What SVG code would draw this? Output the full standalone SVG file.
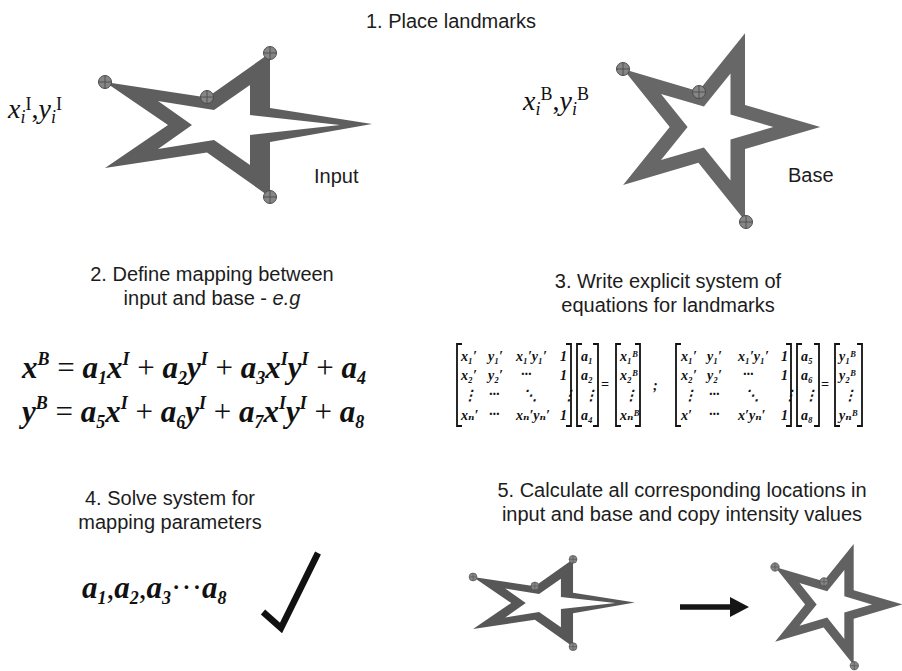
<svg xmlns="http://www.w3.org/2000/svg" xmlns:xlink="http://www.w3.org/1999/xlink" width="902" height="671" viewBox="0 0 902 671">
  <style>
    .lbl { font-family: "Liberation Sans", Arial, Helvetica, sans-serif; font-size: 20px; fill: #1c1c1c; }
    .mid { text-anchor: middle; }
    .tm { font-family: "Liberation Serif", "Times New Roman", serif; font-size: 28px; font-style: italic; fill: #111; }
    .tms { font-size: 18px; }
    .up { font-style: normal; }
    .eq { font-family: "Liberation Serif", "Times New Roman", serif; font-size: 31px; font-style: italic; font-weight: bold; fill: #111; }
    .eqs { font-size: 18px; }
    .op { font-style: normal; font-weight: normal; }
    .mx { font-family: "Liberation Serif", "DejaVu Serif", "Times New Roman", serif; font-size: 14px; font-style: italic; font-weight: bold; fill: #111; }
    .br { fill: none; stroke: #111; stroke-width: 1.8; }
    .lm-c { fill: #868686; stroke: #4d4d4d; stroke-width: 1; }
    .lm-x { stroke: #4d4d4d; stroke-width: 0.9; }
  </style>
  <defs>
    <!-- landmark target -->
    <g id="lm">
      <circle class="lm-c" cx="0" cy="0" r="6.5"/>
      <path class="lm-x" d="M-6.5,0H6.5M0,-6.5V6.5"/>
    </g>
    <!-- outlined star, input shape -->
    <g id="starI">
      <path fill-rule="evenodd" d="M105,82 L207,97.5 L270,53 L270,108 L372,124 L270,142 L270,197 L207,152.5 L105,168 L168,125 Z
               M158,101 L214,110 L250,85 L250,115 L340,125 L250,135 L250,165 L214,140 L158,149 L192,125 Z"/>
      <use xlink:href="#lm" x="105" y="82"/>
      <use xlink:href="#lm" x="207" y="97"/>
      <use xlink:href="#lm" x="270" y="53"/>
      <use xlink:href="#lm" x="270" y="197"/>
    </g>
    <!-- outlined star, base shape -->
    <g id="starB">
      <path fill-rule="evenodd" d="M623.1,69 L698.4,91.2 L745,33.2 L745,104.9 L820.3,127 L745,149.1 L745,220.8 L698.4,162.8 L623.1,185 L669.7,127 Z
               M661,93.9 L703.9,106.6 L730.5,73.5 L730.5,114.4 L773.4,127 L730.5,139.6 L730.5,180.5 L703.9,147.4 L661,160.1 L687.6,127 Z"/>
      <use xlink:href="#lm" x="623" y="69"/>
      <use xlink:href="#lm" x="699" y="92"/>
      <use xlink:href="#lm" x="746" y="222"/>
    </g>
  </defs>

  <rect width="902" height="671" fill="#ffffff"/>

  <!-- step 1 -->
  <g id="step1">
    <text class="lbl mid" x="451" y="28">1. Place landmarks</text>
    <g id="input-star" fill="#5e5e5e"><use xlink:href="#starI"/></g>
    <g id="base-star" fill="#676767"><use xlink:href="#starB"/></g>
    <text class="tm" x="8" y="118">x<tspan class="tms" dy="5">i</tspan><tspan class="tms up" dy="-13">I</tspan><tspan dy="8" class="up">,</tspan>y<tspan class="tms" dy="5">i</tspan><tspan class="tms up" dy="-13">I</tspan></text>
    <text class="tm" x="523" y="110">x<tspan class="tms" dy="5">i</tspan><tspan class="tms up" dy="-15">B</tspan><tspan dy="10" class="up">,</tspan>y<tspan class="tms" dy="5">i</tspan><tspan class="tms up" dy="-15">B</tspan></text>
    <text class="lbl" x="314" y="183">Input</text>
    <text class="lbl" x="788" y="182">Base</text>
  </g>

  <!-- step 2 -->
  <g id="step2">
    <text class="lbl mid" x="212" y="281">2. Define mapping between</text>
    <text class="lbl mid" x="212" y="305">input and base - <tspan font-style="italic">e.g</tspan></text>
    <text class="eq" x="22" y="378">x<tspan class="eqs" dy="-13">B</tspan><tspan class="op" dy="13"> = </tspan>a<tspan class="eqs" dy="6">1</tspan><tspan dy="-6">x</tspan><tspan class="eqs" dy="-13">I</tspan><tspan class="op" dy="13"> + </tspan>a<tspan class="eqs" dy="6">2</tspan><tspan dy="-6">y</tspan><tspan class="eqs" dy="-13">I</tspan><tspan class="op" dy="13"> + </tspan>a<tspan class="eqs" dy="6">3</tspan><tspan dy="-6">x</tspan><tspan class="eqs" dy="-13">I</tspan><tspan dy="13">y</tspan><tspan class="eqs" dy="-13">I</tspan><tspan class="op" dy="13"> + </tspan>a<tspan class="eqs" dy="6">4</tspan></text>
    <text class="eq" x="22" y="422">y<tspan class="eqs" dy="-13">B</tspan><tspan class="op" dy="13"> = </tspan>a<tspan class="eqs" dy="6">5</tspan><tspan dy="-6">x</tspan><tspan class="eqs" dy="-13">I</tspan><tspan class="op" dy="13"> + </tspan>a<tspan class="eqs" dy="6">6</tspan><tspan dy="-6">y</tspan><tspan class="eqs" dy="-13">I</tspan><tspan class="op" dy="13"> + </tspan>a<tspan class="eqs" dy="6">7</tspan><tspan dy="-6">x</tspan><tspan class="eqs" dy="-13">I</tspan><tspan dy="13">y</tspan><tspan class="eqs" dy="-13">I</tspan><tspan class="op" dy="13"> + </tspan>a<tspan class="eqs" dy="6">8</tspan></text>
  </g>

  <!-- step 3 -->
  <g id="step3">
    <text class="lbl mid" x="668" y="288">3. Write explicit system of</text>
    <text class="lbl mid" x="668" y="312">equations for landmarks</text>

    <!-- x system -->
    <g id="system-x">
      <path class="br" d="M462,344H457V426H462 M566,344H571V426H566 M582,344H577V426H582 M593,344H598V426H593 M621,344H616V426H621 M635,344H640V426H635"/>
      <text class="mx" x="461" y="361">x₁′</text>
      <text class="mx" x="488" y="361">y₁′</text>
      <text class="mx" x="516" y="361">x₁′y₁′</text>
      <text class="mx" x="560" y="361">1</text>
      <text class="mx" x="461" y="380">x₂′</text>
      <text class="mx" x="488" y="380">y₂′</text>
      <text class="mx" x="521" y="379">···</text>
      <text class="mx" x="560" y="380">1</text>
      <text class="mx" x="463" y="400">⋮</text>
      <text class="mx" x="489" y="399">···</text>
      <text class="mx" x="523" y="400">⋱</text>
      <text class="mx" x="562" y="400">⋮</text>
      <text class="mx" x="461" y="420">xₙ′</text>
      <text class="mx" x="489" y="419">···</text>
      <text class="mx" x="516" y="420">xₙ′yₙ′</text>
      <text class="mx" x="560" y="420">1</text>
      <text class="mx" x="581" y="361">a₁</text>
      <text class="mx" x="581" y="380">a₂</text>
      <text class="mx" x="584" y="400">⋮</text>
      <text class="mx" x="581" y="420">a₄</text>
      <text class="mx" x="601" y="389">=</text>
      <text class="mx" x="620" y="361">x₁ᴮ</text>
      <text class="mx" x="620" y="380">x₂ᴮ</text>
      <text class="mx" x="624" y="400">⋮</text>
      <text class="mx" x="620" y="420">xₙᴮ</text>
    </g>
    <text class="mx" x="653" y="390">;</text>

    <!-- y system -->
    <g id="system-y">
      <path class="br" d="M681,344H676V426H681 M786,344H791V426H786 M802,344H797V426H802 M814,344H819V426H814 M840,344H835V426H840 M857,344H862V426H857"/>
      <text class="mx" x="681" y="361">x₁′</text>
      <text class="mx" x="707" y="361">y₁′</text>
      <text class="mx" x="738" y="361">x₁′y₁′</text>
      <text class="mx" x="781" y="361">1</text>
      <text class="mx" x="681" y="380">x₂′</text>
      <text class="mx" x="707" y="380">y₂′</text>
      <text class="mx" x="743" y="379">···</text>
      <text class="mx" x="781" y="380">1</text>
      <text class="mx" x="683" y="400">⋮</text>
      <text class="mx" x="709" y="399">···</text>
      <text class="mx" x="745" y="400">⋱</text>
      <text class="mx" x="783" y="400">⋮</text>
      <text class="mx" x="681" y="420">x′</text>
      <text class="mx" x="709" y="419">···</text>
      <text class="mx" x="738" y="420">x′yₙ′</text>
      <text class="mx" x="781" y="420">1</text>
      <text class="mx" x="801" y="361">a₅</text>
      <text class="mx" x="801" y="380">a₆</text>
      <text class="mx" x="804" y="400">⋮</text>
      <text class="mx" x="801" y="420">a₈</text>
      <text class="mx" x="821" y="389">=</text>
      <text class="mx" x="839" y="361">y₁ᴮ</text>
      <text class="mx" x="839" y="380">y₂ᴮ</text>
      <text class="mx" x="843" y="400">⋮</text>
      <text class="mx" x="839" y="420">yₙᴮ</text>
    </g>
  </g>

  <!-- step 4 -->
  <g id="step4">
    <text class="lbl mid" x="170" y="505">4. Solve system for</text>
    <text class="lbl mid" x="170" y="529">mapping parameters</text>
    <text class="eq" x="82" y="598">a<tspan class="eqs" dy="6">1</tspan><tspan class="op" dy="-6">,</tspan>a<tspan class="eqs" dy="6">2</tspan><tspan class="op" dy="-6">,</tspan>a<tspan class="eqs" dy="6">3</tspan><tspan class="op" dy="-6">···</tspan>a<tspan class="eqs" dy="6">8</tspan></text>
    <path id="check" d="M263,612 L281,628 L318,553" fill="none" stroke="#111" stroke-width="6.5" stroke-linejoin="miter"/>
  </g>

  <!-- step 5 -->
  <g id="step5">
    <text class="lbl mid" x="682" y="497">5. Calculate all corresponding locations in</text>
    <text class="lbl mid" x="682" y="521">input and base and copy intensity values</text>
    <g id="input-small" fill="#575757"><use xlink:href="#starI" transform="translate(545.4,603) scale(0.606) translate(-224.4,-125)"/></g>
    <g id="arrow">
      <path d="M680,607 H733" stroke="#151515" stroke-width="5.5"/>
      <path d="M730,597 L749,607 L730,617 Z" fill="#151515"/>
    </g>
    <g id="base-small" fill="#616161"><use xlink:href="#starB" transform="translate(775,567) scale(0.645) translate(-623,-69)"/></g>
  </g>
</svg>
